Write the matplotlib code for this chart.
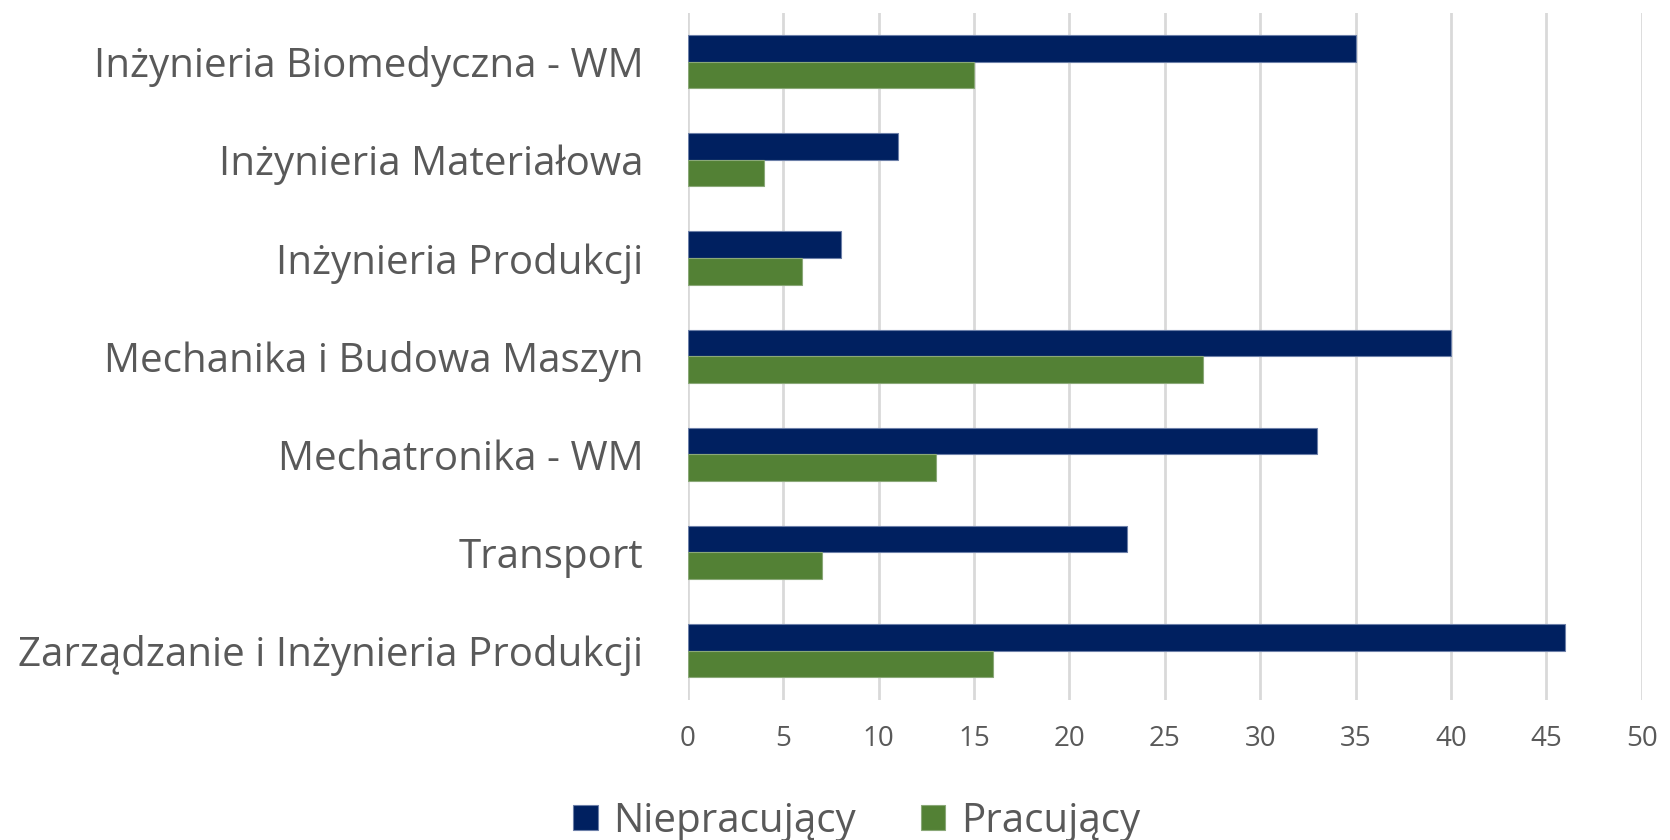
import matplotlib
matplotlib.use("Agg")
import matplotlib.pyplot as plt
import numpy as np

# data
kierunki = [
    "Inżynieria Biomedyczna - WM",
    "Inżynieria Materiałowa",
    "Inżynieria Produkcji",
    "Mechanika i Budowa Maszyn",
    "Mechatronika - WM",
    "Transport",
    "Zarządzanie i Inżynieria Produkcji",
]
niepracujacy = [35, 11, 8, 40, 33, 23, 46]
pracujacy = [15, 4, 6, 27, 13, 7, 16]
x_ticks = [0, 5, 10, 15, 20, 25, 30, 35, 40, 45, 50]

NAVY = "#002060"
GREEN = "#538135"
GREY_TXT = "#595959"

plt.rcParams["font.family"] = ["Open Sans", "DejaVu Sans"]

fig = plt.figure(figsize=(16.7, 8.4), dpi=100)
ax = fig.add_axes((0.412, 0.167, 0.571, 0.818))

y = np.arange(len(kierunki))
h = 0.27
ax.barh(y - h / 2, niepracujacy, height=h, color=NAVY, edgecolor="#6c7fa8",
        linewidth=0.8, label="Niepracujący", zorder=3)
ax.barh(y + h / 2, pracujacy, height=h, color=GREEN, edgecolor="#8aa878",
        linewidth=0.8, label="Pracujący", zorder=3)

ax.set_ylim(len(kierunki) - 0.5, -0.5)
ax.set_xlim(0, 50)
ax.set_xticks(x_ticks)
ax.set_yticks(y)
ax.set_yticklabels(kierunki)

ax.xaxis.grid(True, color="#d9d9d9", linewidth=2, zorder=0)
ax.set_axisbelow(True)
for s in ax.spines.values():
    s.set_visible(False)

ax.tick_params(axis="y", length=0, pad=32, labelsize=29, labelcolor=GREY_TXT)
ax.tick_params(axis="x", length=0, pad=18, labelsize=20, labelcolor=GREY_TXT)

fig.legend(loc="center", bbox_to_anchor=(0.513, 0.022), ncol=2, frameon=False,
           fontsize=29, labelcolor=GREY_TXT, handlelength=0.6, handleheight=0.6,
           handletextpad=0.4, columnspacing=1.6)

fig.savefig("out.png", dpi=100)
